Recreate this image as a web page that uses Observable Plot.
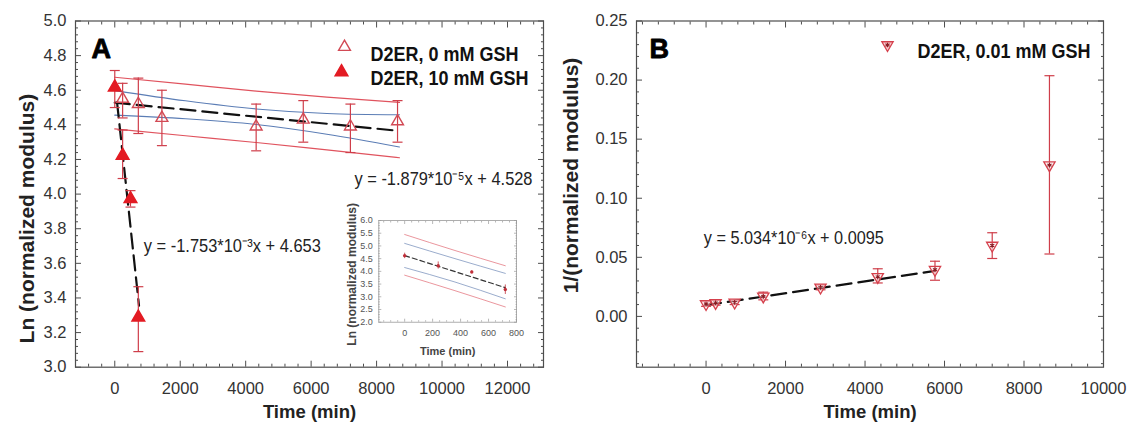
<!DOCTYPE html>
<html><head><meta charset="utf-8">
<script src="https://cdn.jsdelivr.net/npm/d3@7"></script>
<script src="https://cdn.jsdelivr.net/npm/@observablehq/plot@0.6"></script>
<style>
body{margin:0;background:#fff;}
#wrap{position:relative;width:1128px;height:432px;display:flex;overflow:hidden;}
#inset{position:absolute;left:340px;top:205px;}
</style></head><body>
<div id="wrap"><div id="a"></div><div id="b"></div><div id="inset"></div></div>
<script>
// ---------- Panel A data ----------
const timeA0 = [240, 720, 1440, 4320, 5760, 7200, 8640];
const lnA0 = [4.55, 4.52, 4.44, 4.39, 4.43, 4.39, 4.42];
const lnA0Low = [4.44, 4.35, 4.28, 4.25, 4.30, 4.24, 4.30];
const lnA0High = [4.64, 4.67, 4.60, 4.52, 4.54, 4.52, 4.54];

const timeA10 = [0, 240, 480, 720];
const lnA10 = [4.617, 4.223, 3.972, 3.288];
const lnA10Low = [4.50, 4.09, 3.925, 3.09];
const lnA10High = [4.714, 4.37, 4.02, 3.465];

const fitA0Time = [0, 8640];
const fitA0Ln = [4.528, 4.366];
const fitA10Time = [70, 740];
const fitA10Ln = [4.530, 3.356];

const bandA0Time = [0, 2160, 4320, 6480, 8700];
const predA0Upper = [4.675, 4.635, 4.595, 4.560, 4.530];
const confA0Upper = [4.598, 4.539, 4.492, 4.466, 4.458];
const confA0Lower = [4.456, 4.435, 4.402, 4.346, 4.272];
const predA0Lower = [4.377, 4.337, 4.298, 4.255, 4.210];

const xLabelsA = [0, 2000, 4000, 6000, 8000, 10000, 12000];
const yLabelsA = [3.0, 3.2, 3.4, 3.6, 3.8, 4.0, 4.2, 4.4, 4.6, 4.8, 5.0];

// ---------- Inset data ----------
const fitInsetTime = [0, 720];
const fitInsetLn = [4.62, 3.36];
const bandInsetTime = [0, 360, 720];
const predInsetUpper = [5.45, 4.82, 4.22];
const confInsetUpper = [5.10, 4.50, 3.92];
const confInsetLower = [4.15, 3.58, 2.92];
const predInsetLower = [3.85, 3.24, 2.60];
const xLabelsInset = [0, 200, 400, 600, 800];
const yLabelsInset = [2.0, 2.5, 3.0, 3.5, 4.0, 4.5, 5.0, 5.5, 6.0];

// ---------- Panel B data ----------
const timeB = [0, 240, 720, 1440, 2880, 4320, 5760, 7200, 8640];
const invB = [0.0105, 0.0115, 0.0118, 0.0170, 0.0245, 0.0335, 0.0395, 0.0600, 0.128];
const invBLow = [0.0085, 0.0095, 0.0100, 0.0140, 0.0225, 0.0283, 0.0306, 0.049, 0.0528];
const invBHigh = [0.0125, 0.0135, 0.0135, 0.0205, 0.0265, 0.0403, 0.0467, 0.0708, 0.2037];
const fitBTime = [0, 5760];
const fitBInv = [0.0095, 0.0385];
const xLabelsB = [0, 2000, 4000, 6000, 8000, 10000];
const yLabelsB = [0.00, 0.05, 0.10, 0.15, 0.20, 0.25];

// ---------- helpers ----------
const rows = (t, v, lo, hi) => t.map((d, i) => ({t: d, v: v[i], lo: lo ? lo[i] : null, hi: hi ? hi[i] : null}));
const line2 = (t, v) => t.map((d, i) => ({t: d, v: v[i]}));
const bandRows = (t, arrs) => t.map((d, i) => Object.fromEntries([["t", d], ...Object.entries(arrs).map(([k, a]) => [k, a[i]])]));

const invTri = {draw(ctx, size) {
  const y = -Math.sqrt(size / (Math.sqrt(3) * 3));
  ctx.moveTo(0, -y * 2); ctx.lineTo(-Math.sqrt(3) * y, y); ctx.lineTo(Math.sqrt(3) * y, y); ctx.closePath();
}};
const capSym = {draw(ctx, size) { const w = Math.sqrt(size / Math.PI); ctx.moveTo(-w, 0); ctx.lineTo(w, 0); }};

const frameColor = "#4d4d4d";
function ticks(xMajor, xMinor, yMajor, yMinor, major = 6, minor = 3, stroke = frameColor, sw = 1) {
  const out = [];
  for (const [tk, len] of [[xMajor, major], [xMinor, minor]]) {
    out.push(Plot.axisX(tk, {anchor: "bottom", tickSize: len, dy: -len, fill: "none", stroke, strokeWidth: sw, label: null}));
    out.push(Plot.axisX(tk, {anchor: "top", tickSize: len, dy: len, fill: "none", stroke, strokeWidth: sw, label: null}));
  }
  for (const [tk, len] of [[yMajor, major], [yMinor, minor]]) {
    out.push(Plot.axisY(tk, {anchor: "left", tickSize: len, dx: len, fill: "none", stroke, strokeWidth: sw, label: null}));
    out.push(Plot.axisY(tk, {anchor: "right", tickSize: len, dx: -len, fill: "none", stroke, strokeWidth: sw, label: null}));
  }
  return out;
}
const notIn = (arr) => (d) => !arr.some((m) => Math.abs(m - d) < 1e-9);

const RED_ERR = "#cf3e4a", RED_BAND = "#e0535e", BLUE_BAND = "#5b7db5";
const SANS = "'Liberation Sans', Arial, sans-serif";
const baseStyle = {fontFamily: SANS, fontSize: "16.5px", color: "#333", background: "transparent", overflow: "visible"};
const intFmt = d3.format("d");

// condensed annotation text: fixed rendered width via textLength
const label = (s, width, opts) => Plot.text([s], {text: (d) => d, frameAnchor: "top-left", textAnchor: "start", className: "fit-" + width, ...opts});
function fitText(svg) {
  svg.querySelectorAll("g[class^='fit-']").forEach((g) => {
    const w = g.getAttribute("class").match(/fit-([\d.]+)/)[1];
    g.querySelectorAll("text").forEach((t) => { t.setAttribute("textLength", w); t.setAttribute("lengthAdjust", "spacingAndGlyphs"); });
  });
  return svg;
}

// ---------- Panel A ----------
const a0 = rows(timeA0, lnA0, lnA0Low, lnA0High);
const a10 = rows(timeA10, lnA10, lnA10Low, lnA10High);
const bandA = bandRows(bandA0Time, {pu: predA0Upper, cu: confA0Upper, cl: confA0Lower, pl: predA0Lower});
const xMinorA = d3.range(-800, 13100, 400).filter(notIn(xLabelsA));
const yMinorA = d3.range(3.0, 5.0001, 0.04).filter(notIn(yLabelsA));

const plotA = Plot.plot({
  width: 560, height: 432,
  marginLeft: 75, marginRight: 17, marginTop: 20.5, marginBottom: 65.3,
  style: baseStyle,
  x: {domain: [-1200, 13100]},
  y: {domain: [3.0, 5.0]},
  marks: [
    Plot.frame({stroke: frameColor, strokeWidth: 1.2}),
    ...ticks(xLabelsA, xMinorA, yLabelsA, yMinorA),
    Plot.axisX(xLabelsA, {anchor: "bottom", tickSize: 0, tickPadding: 15, label: null, fill: "#333", tickFormat: intFmt}),
    Plot.axisY(yLabelsA, {anchor: "left", tickSize: 0, tickPadding: 9, label: null, fill: "#333", tickFormat: d3.format(".1f")}),
    // bands
    Plot.line(bandA, {x: "t", y: "pu", stroke: RED_BAND, strokeWidth: 1.2, curve: "monotone-x"}),
    Plot.line(bandA, {x: "t", y: "pl", stroke: RED_BAND, strokeWidth: 1.2, curve: "monotone-x"}),
    Plot.line(bandA, {x: "t", y: "cu", stroke: BLUE_BAND, strokeWidth: 1.1, curve: "monotone-x"}),
    Plot.line(bandA, {x: "t", y: "cl", stroke: BLUE_BAND, strokeWidth: 1.1, curve: "monotone-x"}),
    // fits
    Plot.line(line2(fitA0Time, fitA0Ln), {x: "t", y: "v", stroke: "#111", strokeWidth: 2.2, strokeDasharray: "15,7"}),
    Plot.line(line2(fitA10Time, fitA10Ln), {x: "t", y: "v", stroke: "#111", strokeWidth: 2.2, strokeDasharray: "15,7"}),
    // error bars
    Plot.ruleX(a0, {x: "t", y1: "lo", y2: "hi", stroke: RED_ERR, strokeWidth: 1.2}),
    Plot.dot(a0, {x: "t", y: "lo", symbol: capSym, r: 5, stroke: RED_ERR, strokeWidth: 1.2}),
    Plot.dot(a0, {x: "t", y: "hi", symbol: capSym, r: 5, stroke: RED_ERR, strokeWidth: 1.2}),
    Plot.ruleX(a10, {x: "t", y1: "lo", y2: "hi", stroke: RED_ERR, strokeWidth: 1.2}),
    Plot.dot(a10, {x: "t", y: "lo", symbol: capSym, r: 5, stroke: RED_ERR, strokeWidth: 1.2}),
    Plot.dot(a10, {x: "t", y: "hi", symbol: capSym, r: 5, stroke: RED_ERR, strokeWidth: 1.2}),
    // markers
    Plot.dot(a0, {x: "t", y: "v", symbol: "triangle", r: 4.4, stroke: "#d24a55", strokeWidth: 1.4, fill: "none"}),
    Plot.dot(a10, {x: "t", y: "v", symbol: "triangle", r: 4.7, stroke: "#e31b23", fill: "#e31b23"}),
    // legend
    Plot.dot([0], {frameAnchor: "top-left", dx: 269, dy: 26, symbol: "triangle", r: 4.4, stroke: "#d24a55", strokeWidth: 1.4, fill: "none"}),
    Plot.dot([0], {frameAnchor: "top-left", dx: 266, dy: 51, symbol: "triangle", r: 4.7, stroke: "#e31b23", fill: "#e31b23"}),
    label("D2ER, 0 mM GSH", 148, {dx: 295, dy: 25.5, fontWeight: "bold", fontSize: 20, fill: "#111"}),
    label("D2ER, 10 mM GSH", 158, {dx: 295, dy: 50, fontWeight: "bold", fontSize: 20, fill: "#111"}),
    // panel letter and equations
    Plot.text(["A"], {text: (d) => d, frameAnchor: "top-left", dx: 16, dy: 36.8, lineAnchor: "bottom", textAnchor: "start", fontWeight: "bold", fontSize: 27, fill: "#000", stroke: "#000", strokeWidth: 0.8}),
    label("y = -1.879*10⁻⁵x + 4.528", 178, {dx: 279, dy: 163.5, lineAnchor: "bottom", fontSize: 18.5, fill: "#222"}),
    label("y = -1.753*10⁻³x + 4.653", 177, {dx: 68.3, dy: 231, lineAnchor: "bottom", fontSize: 18.5, fill: "#222"}),
    // axis titles
    Plot.text(["Time (min)"], {text: (d) => d, frameAnchor: "bottom", dy: 50.3, lineAnchor: "bottom", textAnchor: "middle", fontWeight: "bold", fontSize: 18.5, fill: "#222"}),
    Plot.text(["Ln (normalized modulus)"], {text: (d) => d, frameAnchor: "left", dx: -48, dy: 24.5, rotate: -90, textAnchor: "middle", lineAnchor: "middle", fontWeight: "bold", fontSize: 21, fill: "#222"})
  ]
});
document.getElementById("a").append(fitText(plotA));

// ---------- Inset ----------
const bandI = bandRows(bandInsetTime, {pu: predInsetUpper, cu: confInsetUpper, cl: confInsetLower, pl: predInsetLower});
const xMinorI = d3.range(-150, 800, 50).filter(notIn(xLabelsInset));
const yMinorI = d3.range(2.0, 6.0001, 0.1).filter(notIn(yLabelsInset));
const plotI = Plot.plot({
  width: 190, height: 160,
  marginLeft: 38.3, marginRight: 14, marginTop: 15, marginBottom: 43.3,
  style: {...baseStyle, fontSize: "9px", color: "#555"},
  x: {domain: [-185, 800]},
  y: {domain: [2.0, 6.0]},
  marks: [
    Plot.frame({stroke: "#999", strokeWidth: 0.8}),
    ...ticks(xLabelsInset, xMinorI, yLabelsInset, yMinorI, 3, 1.5, "#999", 0.7),
    Plot.axisX(xLabelsInset, {anchor: "bottom", tickSize: 0, tickPadding: 7, label: null, fill: "#555", fontSize: 9, tickFormat: intFmt}),
    Plot.axisY(yLabelsInset, {anchor: "left", tickSize: 0, tickPadding: 6, label: null, fill: "#555", fontSize: 9, tickFormat: d3.format(".1f")}),
    Plot.line(bandI, {x: "t", y: "pu", stroke: "#e88a92", strokeWidth: 0.9, curve: "monotone-x"}),
    Plot.line(bandI, {x: "t", y: "pl", stroke: "#e88a92", strokeWidth: 0.9, curve: "monotone-x"}),
    Plot.line(bandI, {x: "t", y: "cu", stroke: "#8ea3c6", strokeWidth: 0.9, curve: "monotone-x"}),
    Plot.line(bandI, {x: "t", y: "cl", stroke: "#8ea3c6", strokeWidth: 0.9, curve: "monotone-x"}),
    Plot.line(line2(fitInsetTime, fitInsetLn), {x: "t", y: "v", stroke: "#333", strokeWidth: 1.2, strokeDasharray: "5,3"}),
    Plot.ruleX(a10, {x: "t", y1: "lo", y2: "hi", stroke: "#c0303a", strokeWidth: 0.8}),
    Plot.dot(a10, {x: "t", y: "v", r: 1.7, fill: "#c0303a"}),
    Plot.text(["Time (min)"], {text: (d) => d, frameAnchor: "bottom", dy: 32.5, lineAnchor: "bottom", textAnchor: "middle", fontWeight: "bold", fontSize: 11, fill: "#444"}),
    Plot.text(["Ln (normalized modulus)"], {text: (d) => d, frameAnchor: "left", dx: -26.5, dy: 3, rotate: -90, textAnchor: "middle", lineAnchor: "middle", fontWeight: "bold", fontSize: 12, fill: "#444"})
  ]
});
document.getElementById("inset").append(plotI);

// ---------- Panel B ----------
const b = rows(timeB, invB, invBLow, invBHigh);
const xMinorB = d3.range(-1600, 10001, 400).filter(notIn(xLabelsB));
const yMinorB = d3.range(-0.04, 0.2501, 0.01).filter(notIn(yLabelsB));
const plotB = Plot.plot({
  width: 568, height: 432,
  marginLeft: 76, marginRight: 25, marginTop: 20.5, marginBottom: 65.3,
  style: baseStyle,
  x: {domain: [-1750, 10000]},
  y: {domain: [-0.043, 0.25]},
  marks: [
    Plot.frame({stroke: frameColor, strokeWidth: 1.2}),
    ...ticks(xLabelsB, xMinorB, yLabelsB, yMinorB),
    Plot.axisX(xLabelsB, {anchor: "bottom", tickSize: 0, tickPadding: 15, label: null, fill: "#333", tickFormat: intFmt}),
    Plot.axisY(yLabelsB, {anchor: "left", tickSize: 0, tickPadding: 9, label: null, fill: "#333", tickFormat: d3.format(".2f")}),
    Plot.line(line2(fitBTime, fitBInv), {x: "t", y: "v", stroke: "#111", strokeWidth: 2.2, strokeDasharray: "15,7"}),
    Plot.ruleX(b, {x: "t", y1: "lo", y2: "hi", stroke: RED_ERR, strokeWidth: 1.2}),
    Plot.dot(b, {x: "t", y: "lo", symbol: capSym, r: 5, stroke: RED_ERR, strokeWidth: 1.2}),
    Plot.dot(b, {x: "t", y: "hi", symbol: capSym, r: 5, stroke: RED_ERR, strokeWidth: 1.2}),
    Plot.dot(b, {x: "t", y: "v", symbol: invTri, r: 4.2, stroke: "#d5404c", strokeWidth: 1.3, fill: "#fbe6e7", fillOpacity: 0.6}),
    Plot.dot(b, {x: "t", y: "v", symbol: "asterisk", r: 2.2, stroke: "#8b1a22", strokeWidth: 1.1}),
    // legend
    Plot.dot([0], {frameAnchor: "top-left", dx: 251, dy: 24, symbol: invTri, r: 4.2, stroke: "#d5404c", strokeWidth: 1.3, fill: "#f6c9cc"}),
    Plot.dot([0], {frameAnchor: "top-left", dx: 251, dy: 24, symbol: "asterisk", r: 2.2, stroke: "#8b1a22", strokeWidth: 1.1}),
    label("D2ER, 0.01 mM GSH", 173, {dx: 281, dy: 23, fontWeight: "bold", fontSize: 20, fill: "#111"}),
    Plot.text(["B"], {text: (d) => d, frameAnchor: "top-left", dx: 13, dy: 36.8, lineAnchor: "bottom", textAnchor: "start", fontWeight: "bold", fontSize: 27, fill: "#000", stroke: "#000", strokeWidth: 0.8}),
    label("y = 5.034*10⁻⁶x + 0.0095", 180, {dx: 67.3, dy: 222.8, lineAnchor: "bottom", fontSize: 18.5, fill: "#222"}),
    Plot.text(["Time (min)"], {text: (d) => d, frameAnchor: "bottom", dy: 50.3, lineAnchor: "bottom", textAnchor: "middle", fontWeight: "bold", fontSize: 18.5, fill: "#222"}),
    Plot.text(["1/(normalized modulus)"], {text: (d) => d, frameAnchor: "left", dx: -65, dy: -18.6, rotate: -90, textAnchor: "middle", lineAnchor: "middle", fontWeight: "bold", fontSize: 21, fill: "#222"})
  ]
});
document.getElementById("b").append(fitText(plotB));
</script>
</body></html>
